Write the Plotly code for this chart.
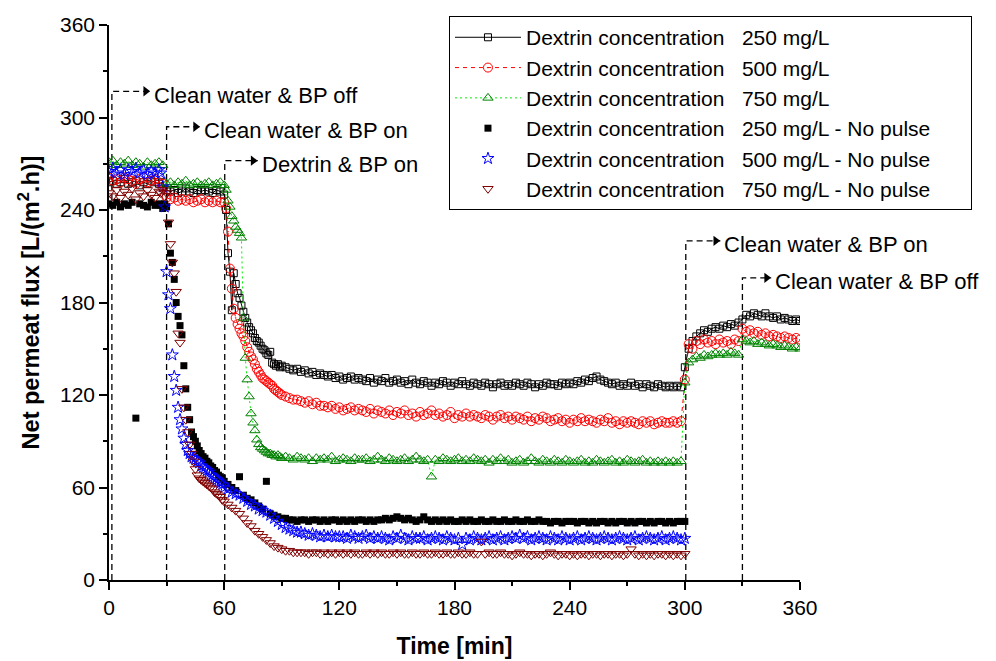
import plotly.graph_objects as go

# ---------------- data ----------------
# sampling times (min)
t_pulse = list(range(0, 60, 2)) + list(range(60, 91)) + list(range(92, 361, 2))
t_nopulse = list(range(0, 27, 2)) + list(range(27, 60)) + list(range(60, 301, 2))

flux_250_pulse = [
    258, 259, 257, 258, 260, 257, 258, 259, 256, 258, 257, 259, 258, 257, 258,
    253, 252, 253, 251, 252, 254, 252, 251, 253, 252, 253, 252, 251, 253, 252,
    250, 240, 212, 200, 175, 199, 192, 186, 183, 178, 174, 170, 167, 164, 162, 160,
    157, 155, 154, 152, 150, 149, 147, 146, 148, 141, 140, 139, 140, 138, 139,
    138, 137, 136, 137, 135, 136, 134, 135, 133, 134,
    133, 132, 133, 131, 132, 130, 131, 132, 130, 131,
    130, 129, 131, 128, 130, 129, 131, 128, 129, 130,
    128, 129, 127, 130, 128, 127, 129, 128, 126, 128,
    127, 129, 128, 126, 128, 127, 129, 127, 126, 128,
    127, 126, 128, 127, 125, 127, 128, 126, 127, 126,
    128, 127, 126, 128, 127, 125, 127, 126, 128, 127,
    127, 126, 128, 127, 128, 127, 129, 128, 130, 129,
    131, 132, 130, 129, 128, 127, 128, 126, 127, 126,
    128, 126, 127, 125, 127, 126, 125, 127, 126, 125,
    126, 125, 126, 125,
    138, 150, 155, 158, 160, 162, 161, 163, 164, 163,
    165, 164, 166, 165, 167, 169, 172, 171, 173, 172,
    171, 173, 171, 170, 171, 169, 170, 169, 168, 169, 168,
]

flux_500_pulse = [
    261, 259, 260, 258, 261, 260, 259, 257, 260, 261, 258, 259, 260, 258, 257,
    248, 247, 248, 246, 247, 246, 247, 245, 246, 247, 245, 246, 245, 246, 245,
    245, 241, 226, 202, 189, 176, 170, 166, 163, 160, 158, 155, 151, 148, 145, 143,
    140, 137, 135, 133, 131, 130, 129, 128, 127, 126, 124, 123, 122, 121, 120,
    119, 118, 117, 117, 116, 115, 116, 114, 115, 113,
    113, 112, 113, 111, 112, 110, 111, 112, 110, 111,
    110, 109, 111, 108, 110, 109, 108, 110, 107, 109,
    108, 110, 107, 108, 106, 109, 107, 108, 110, 107,
    108, 106, 107, 109, 105, 107, 106, 108, 106, 107,
    106, 105, 107, 106, 104, 106, 107, 105, 106, 104,
    106, 105, 104, 106, 103, 105, 104, 106, 105, 103,
    104, 105, 103, 104, 102, 104, 103, 105, 103, 104,
    103, 102, 104, 103, 105, 102, 103, 101, 103, 102,
    103, 102, 101, 103, 102, 103, 101, 102, 103, 102,
    102, 103, 102, 103,
    130, 153, 150, 155, 153, 156, 154, 155, 153, 156,
    154, 155, 153, 156, 155, 163, 161, 162, 160, 161,
    159, 160, 158, 159, 158, 157, 158, 157, 156, 157, 156,
]

flux_750_pulse = [
    271, 272, 269, 271, 270, 272, 269, 271, 270, 268, 271, 269, 270, 271, 269,
    257, 258, 256, 258, 257, 259, 256, 257, 258, 256, 257, 258, 256, 257, 258,
    256, 253, 246, 242, 236, 233, 229, 227, 225, 222, 170, 144, 130, 119, 108, 102,
    97, 91, 88, 86, 85, 84, 83, 82, 82, 81, 81, 80, 81, 80, 79,
    80, 79, 78, 80, 79, 78, 79, 77, 79, 78,
    79, 78, 80, 77, 78, 79, 78, 77, 79, 78,
    78, 79, 77, 78, 80, 78, 77, 79, 78, 77,
    78, 79, 77, 78, 80, 78, 77, 78, 67, 78,
    77, 79, 78, 77, 78, 79, 77, 78, 77, 79,
    78, 77, 78, 76, 78, 77, 79, 77, 78, 76,
    77, 78, 76, 77, 79, 77, 76, 78, 77, 76,
    78, 77, 76, 78, 77, 76, 77, 78, 76, 77,
    76, 78, 77, 76, 77, 78, 76, 77, 76, 78,
    77, 76, 77, 78, 76, 77, 76, 77, 76, 77,
    76, 77, 76, 77,
    128, 141, 143, 145, 144, 146, 145, 146, 147, 146,
    147, 146, 148, 147, 146, 156, 155, 154, 155, 153,
    154, 153, 152, 153, 152, 151, 152, 151, 150, 151, 150,
]

flux_250_nopulse = [
    244, 243, 245, 242, 244, 243, 245, 105, 244, 243, 242, 245, 243, 244,
    243, 241, 244, 242, 231, 212, 206, 195, 180, 171,
    165, 159, 139, 124, 112, 104, 96, 93, 90, 87,
    84, 82, 80, 79, 77, 76, 74, 73, 71, 70, 68, 67, 66,
    64, 62, 60, 58, 67, 55, 53, 52, 50, 48, 46, 64, 43, 42, 41, 40, 40, 39, 39, 38, 39,
    39, 38, 39, 39, 38, 39, 38, 39, 39, 38,
    39, 38, 39, 38, 39, 39, 38, 39, 38, 39,
    39, 40, 39, 40, 41, 40, 39, 40, 39, 38,
    39, 41, 39, 38, 39, 38, 39, 38, 39, 38,
    38, 39, 38, 39, 38, 38, 39, 38, 38, 39,
    38, 38, 39, 38, 38, 39, 38, 38, 39, 38,
    38, 39, 38, 38, 37, 38, 38, 37, 38, 38,
    38, 37, 38, 38, 37, 38, 37, 38, 38, 37,
    38, 37, 38, 38, 37, 38, 37, 38, 38, 37,
    38, 37, 38, 38, 37, 38, 37, 38, 38, 38,
]

flux_500_nopulse = [
    265, 267, 264, 266, 263, 266, 265, 267, 264, 266, 263, 265, 264, 266,
    264, 255, 242, 200, 185, 176, 146, 132, 123, 112,
    104, 98, 92, 88, 84, 82, 80, 79, 78, 77,
    76, 74, 73, 72, 71, 70, 68, 67, 66, 65, 64, 63, 62,
    60, 59, 57, 56, 55, 53, 51, 49, 48, 46, 45, 44, 42, 40, 38, 36, 34, 33, 32, 31, 31,
    30, 29, 30, 29, 28, 29, 28, 29, 28, 28,
    28, 27, 29, 28, 27, 28, 29, 27, 28, 27,
    28, 27, 26, 28, 27, 29, 27, 26, 28, 27,
    27, 28, 26, 27, 28, 27, 26, 28, 27, 26,
    27, 23, 27, 26, 28, 27, 26, 27, 28, 26,
    27, 28, 26, 27, 28, 27, 29, 27, 28, 26,
    27, 28, 27, 26, 28, 27, 26, 28, 27, 26,
    27, 28, 26, 27, 28, 27, 26, 27, 28, 27,
    26, 27, 28, 27, 26, 27, 28, 26, 27, 28,
    27, 26, 27, 28, 26, 27, 28, 27, 26, 27,
]

flux_750_nopulse = [
    251, 249, 253, 248, 252, 250, 254, 247, 251, 249, 253, 250, 248, 252,
    251, 253, 249, 251, 232, 218, 206, 199, 187, 160,
    154, 124, 112, 104, 96, 88, 82, 77, 72, 68,
    66, 65, 64, 63, 62, 61, 60, 59, 57, 56, 55, 54, 52,
    51, 49, 47, 45, 43, 40, 37, 35, 32, 30, 28, 26, 24, 22, 21, 20, 19, 19, 18, 18, 18,
    18, 17, 18, 18, 17, 18, 17, 18, 17, 18,
    17, 18, 17, 18, 17, 17, 18, 17, 18, 17,
    18, 17, 17, 18, 17, 18, 17, 17, 18, 17,
    17, 18, 17, 17, 18, 17, 17, 18, 17, 17,
    18, 17, 17, 18, 17, 17, 25, 17, 18, 17,
    17, 18, 17, 17, 16, 17, 18, 17, 17, 16,
    17, 17, 16, 17, 18, 17, 16, 17, 17, 16,
    17, 16, 17, 17, 16, 17, 17, 16, 17, 17,
    16, 17, 17, 16, 17, 20, 17, 16, 17, 16,
    17, 16, 17, 17, 16, 17, 16, 17, 16, 17,
]

for arr in (flux_250_pulse, flux_500_pulse, flux_750_pulse):
    assert len(arr) == len(t_pulse), len(arr)
for arr in (flux_250_nopulse, flux_500_nopulse, flux_750_nopulse):
    assert len(arr) == len(t_nopulse), len(arr)

GAP = "\u00a0\u00a0\u00a0"
PAD = "\u00a0" * 6
series_names = [
    "Dextrin concentration" + GAP + "250 mg/L",
    "Dextrin concentration" + GAP + "500 mg/L",
    "Dextrin concentration" + GAP + "750 mg/L",
    "Dextrin concentration" + GAP + "250 mg/L - No pulse" + PAD,
    "Dextrin concentration" + GAP + "500 mg/L - No pulse" + PAD,
    "Dextrin concentration" + GAP + "750 mg/L - No pulse" + PAD,
]

# step events (dashed bracket annotations)
event_x = [1.5, 30, 60.3, 300.5, 330]
event_level = [317, 294, 272, 220, 196]
event_tip = [21.5, 47.5, 77.5, 318.5, 345]
event_text = [
    "Clean water & BP off",
    "Clean water & BP on",
    "Dextrin & BP on",
    "Clean water & BP on",
    "Clean water & BP off",
]

FONT = "Liberation Sans, Arial, sans-serif"

fig = go.Figure()

# dashed bracket lines
for ex, ey, etip in zip(event_x, event_level, event_tip):
    fig.add_trace(go.Scatter(
        x=[ex, ex, etip], y=[0, ey, ey], mode="lines",
        line=dict(color="black", width=1.3, dash="6px,4px"),
        showlegend=False, hoverinfo="skip"))
    fig.add_trace(go.Scatter(
        x=[etip - 2.4], y=[ey], mode="markers",
        marker=dict(symbol="triangle-right", size=9, color="black"),
        showlegend=False, hoverinfo="skip"))

# pulse series
fig.add_trace(go.Scatter(
    x=t_pulse, y=flux_250_pulse, name=series_names[0], mode="lines+markers",
    line=dict(color="black", width=1),
    marker=dict(symbol="square-open", size=7, color="black", line=dict(width=1))))
fig.add_trace(go.Scatter(
    x=t_pulse, y=flux_500_pulse, name=series_names[1], mode="lines+markers",
    line=dict(color="red", width=1, dash="4px,4px"),
    marker=dict(symbol="circle-open-dot", size=9, color="red", line=dict(width=1))))
fig.add_trace(go.Scatter(
    x=t_pulse, y=flux_750_pulse, name=series_names[2], mode="lines+markers",
    line=dict(color="#00ee00", width=1, dash="2px,3px"),
    marker=dict(symbol="triangle-up-open", size=9, color="#008000", line=dict(width=1))))
# no-pulse series
fig.add_trace(go.Scatter(
    x=t_nopulse, y=flux_250_nopulse, name=series_names[3], mode="markers",
    marker=dict(symbol="square", size=7, color="black")))
fig.add_trace(go.Scatter(
    x=t_nopulse, y=flux_500_nopulse, name=series_names[4], mode="markers",
    marker=dict(symbol="star-open", size=9, color="blue", line=dict(width=1))))
fig.add_trace(go.Scatter(
    x=t_nopulse, y=flux_750_nopulse, name=series_names[5], mode="markers",
    marker=dict(symbol="triangle-down-open", size=9, color="#800000", line=dict(width=1))))

for ex, ey, etip, txt in zip(event_x, event_level, event_tip, event_text):
    fig.add_annotation(x=etip + 1.0, y=ey, text=txt, showarrow=False,
                       xanchor="left", yanchor="middle", yshift=-4,
                       font=dict(family=FONT, size=22, color="black"))

axis_common = dict(
    range=[0, 360], tick0=0, dtick=60, ticks="outside", ticklen=8, tickwidth=1.5,
    tickcolor="black", showline=True, linewidth=1.5, linecolor="black",
    showgrid=False, zeroline=False, mirror=False,
    tickfont=dict(family=FONT, size=21, color="black"),
    minor=dict(tick0=0, dtick=30, ticks="outside", ticklen=4, tickwidth=1.5,
               tickcolor="black", showgrid=False),
)

fig.update_xaxes(**axis_common,
                 title=dict(text="<b>Time [min]</b>", standoff=20,
                            font=dict(family=FONT, size=23, color="black")))
fig.update_yaxes(**axis_common,
                 title=dict(text="<b>Net permeat flux [L/(m<sup>2</sup>.h)]</b>", standoff=14,
                            font=dict(family=FONT, size=23.5, color="black")))

fig.update_layout(
    width=996, height=661,
    margin=dict(l=109, r=196, t=25, b=81, autoexpand=False),
    plot_bgcolor="white", paper_bgcolor="white",
    font=dict(family=FONT, size=21, color="black"),
    legend=dict(x=0.492, y=1.016, xanchor="left", yanchor="top",
                bordercolor="black", borderwidth=1, bgcolor="white",
                font=dict(family=FONT, size=21, color="black"),
                itemwidth=66, tracegroupgap=0),
)

fig.write_html("out.html")
